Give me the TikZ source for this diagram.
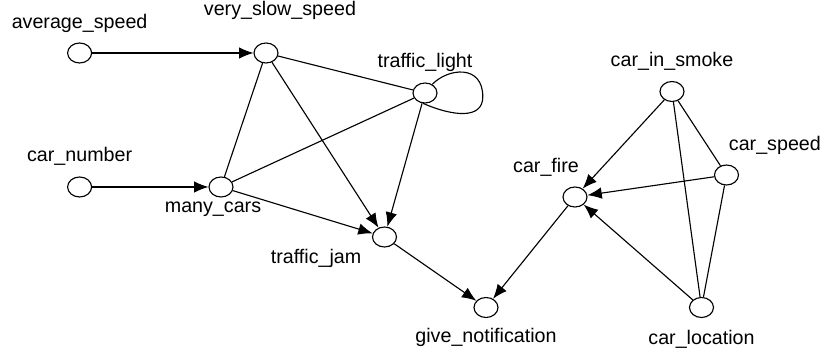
\documentclass[tikz,border=0pt]{standalone}
\usepackage{fontspec}
\setmainfont{Liberation Sans}
\usepackage{tikz}
\usetikzlibrary{shapes,arrows.meta,positioning}
\tikzset{
var/.style = {draw, fill=white, ellipse, minimum width=0.6cm, minimum height=0.5cm, inner sep=0pt},
lbl/.style = {inner sep=0pt, font=\fontsize{14pt}{16pt}\selectfont},
tmp/.style = {coordinate}
}

\begin{document}
\begin{tikzpicture}[line width=0.8pt, >={Latex[length=3.6mm,width=2.9mm]}]
  \useasboundingbox (0,0) rectangle (20.625,8.9);
  \node [var] (avgspeed)  at (1.99,7.575)    {};
  \node [var] (slowspeed) at (6.65,7.575)    {};
  \node [var] (tlight)    at (10.625,6.575)  {};
  \node [var] (carnum)    at (1.99,4.225)    {};
  \node [var] (manycars)  at (5.525,4.225)   {};
  \node [var] (tjam)      at (9.6125,2.975)  {};
  \node [var] (notify)    at (12.15,1.2125)  {};
  \node [var] (carfire)   at (14.375,3.975)  {};
  \node [var] (smoke)     at (16.8,6.6125)   {};
  \node [var] (carspeed)  at (18.1625,4.525) {};
  \node [var] (carloc)    at (17.5375,1.2125){};
  \node [tmp] (loopr)     at (12.07,6.48)    {};

  \node [lbl, above of=avgspeed, node distance=0.75cm]                (lavgspeed)  {average\_speed};
  \node [lbl, above of=slowspeed, node distance=1.075cm, xshift=0.35cm] (lslowspeed) {very\_slow\_speed};
  \node [lbl, above of=tlight, node distance=0.775cm]                 (ltlight)    {traffic\_light};
  \node [lbl, above of=carnum, node distance=0.775cm]                 (lcarnum)    {car\_number};
  \node [lbl, below of=manycars, node distance=0.55cm, xshift=-0.2cm] (lmanycars)  {many\_cars};
  \node [lbl, below of=tjam, node distance=0.525cm, xshift=-1.71cm]   (ltjam)      {traffic\_jam};
  \node [lbl, below of=notify, node distance=0.76cm]                  (lnotify)    {give\_notification};
  \node [lbl, above of=carfire, node distance=0.75cm, xshift=-0.725cm] (lcarfire)  {car\_fire};
  \node [lbl, above of=smoke, node distance=0.75cm]                   (lsmoke)     {car\_in\_smoke};
  \node [lbl, above of=carspeed, node distance=0.75cm, xshift=1.21cm] (lcarspeed)  {car\_speed};
  \node [lbl, below of=carloc, node distance=0.79cm]                  (lcarloc)    {car\_location};

  \draw [->] (avgspeed) -- (slowspeed);
  \draw [->] (carnum) -- (manycars);
  \draw (slowspeed) -- (tlight);
  \draw (slowspeed) -- (manycars);
  \draw (tlight) -- (manycars);
  \draw [->] (slowspeed) -- (tjam);
  \draw [->] (tlight) -- (tjam);
  \draw [->] (manycars) -- (tjam);
  \draw (tlight.50) .. controls (11.2,7.2) and (12.07,7.3) .. (loopr)
                    .. controls (12.07,5.9) and (11.3,6.0) .. (tlight.-100);
  \draw [->] (tjam) -- (notify);
  \draw [->] (carfire) -- (notify);
  \draw [->] (smoke) -- (carfire);
  \draw [->] (carspeed) -- (carfire);
  \draw [->] (carloc) -- (carfire);
  \draw (smoke) -- (carspeed);
  \draw (smoke) -- (carloc);
  \draw (carspeed) -- (carloc);
\end{tikzpicture}
\end{document}
